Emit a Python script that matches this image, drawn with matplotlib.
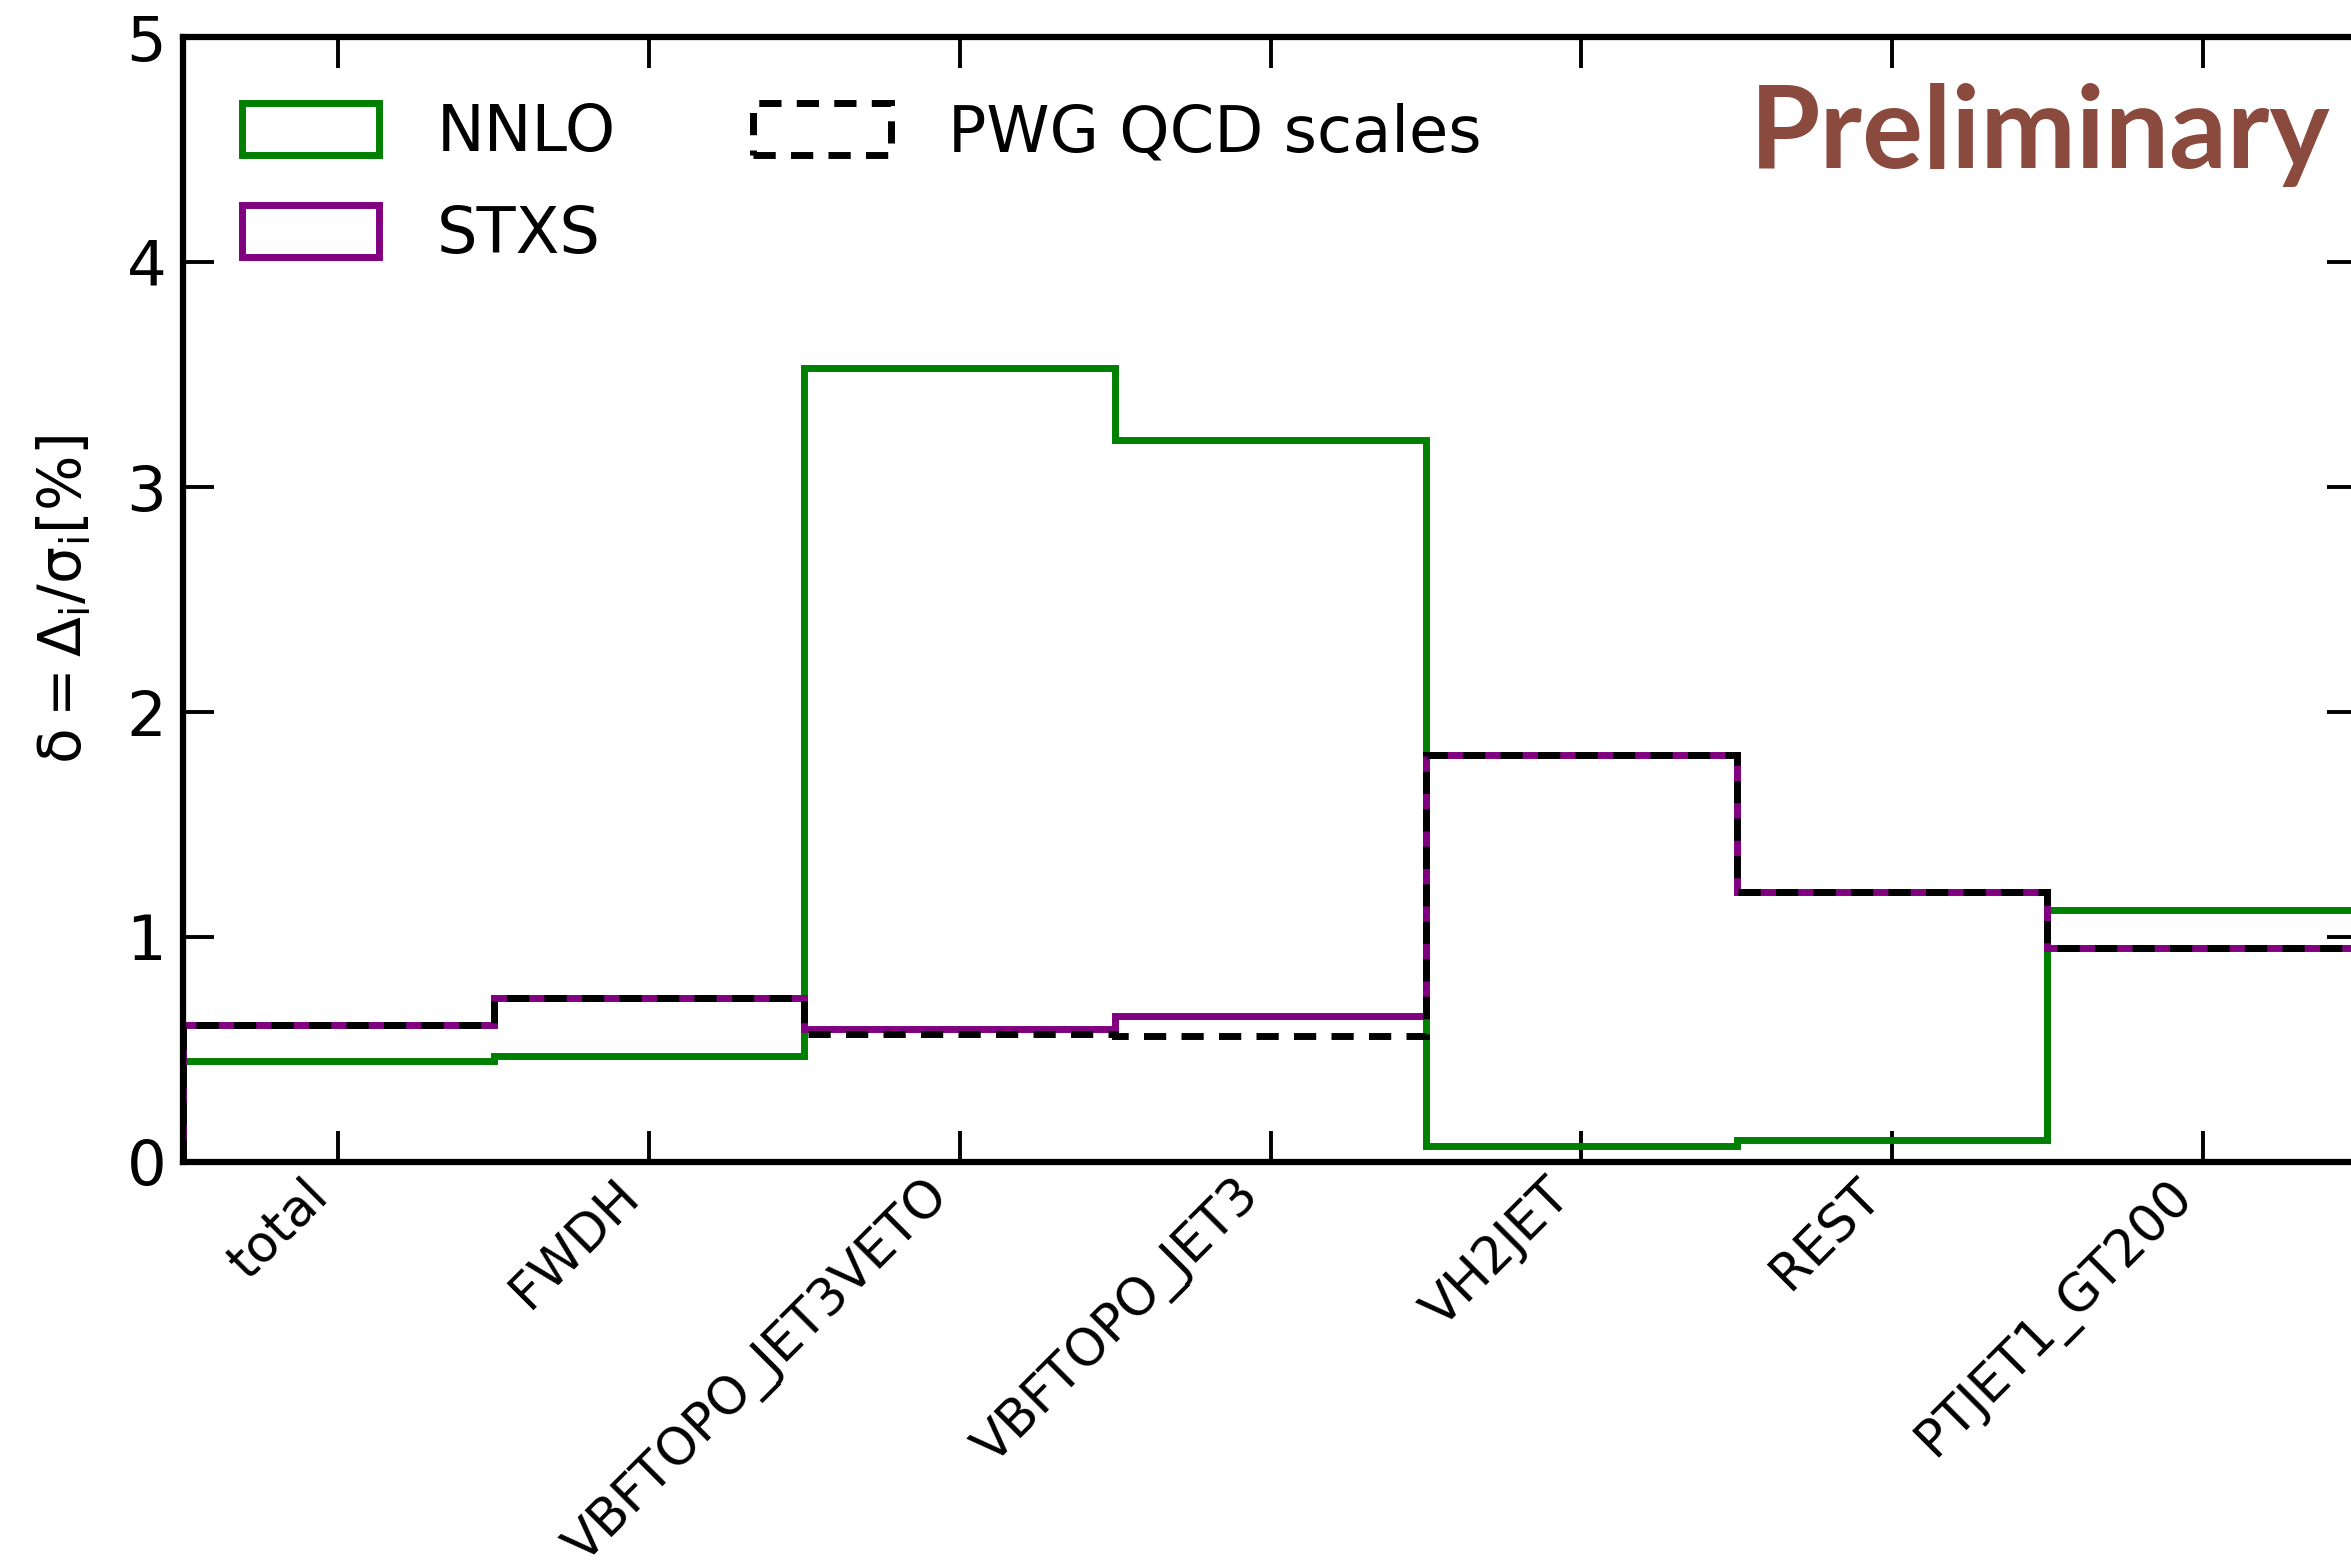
import matplotlib
matplotlib.use("Agg")
import matplotlib.pyplot as plt
import matplotlib.transforms as mtransforms
import numpy as np

# STXS bins and relative uncertainties in percent
categories = ["total", "FWDH", "VBFTOPO_JET3VETO", "VBFTOPO_JET3",
              "VH2JET", "REST", "PTJET1_GT200"]
nnlo = [0.45, 0.47, 3.53, 3.21, 0.07, 0.10, 1.12]
stxs = [0.61, 0.73, 0.59, 0.65, 1.81, 1.20, 0.95]
pwg_scales = [0.61, 0.73, 0.57, 0.56, 1.81, 1.20, 0.95]

BROWN = "#8b4a3e"
LW = 5

plt.rcParams["mathtext.default"] = "regular"

edges = np.arange(len(categories) + 1)
centers = edges[:-1] + 0.5

W, H = 2351, 1565
fig = plt.figure(figsize=(W / 100, H / 100), dpi=100)
ax = fig.add_axes([183 / W, 1 - 1162 / H, (2358 - 183) / W, (1162 - 37) / H])

ax.hist(centers, bins=edges, weights=nnlo, histtype="step",
        color="green", lw=LW, label="NNLO")
ax.hist(centers, bins=edges, weights=stxs, histtype="step",
        color="purple", lw=LW, label="STXS")
ax.hist(centers, bins=edges, weights=pwg_scales, histtype="step",
        color="black", lw=LW, ls=(0, (3.2, 2.2)), label="PWG QCD scales")

ax.set_xlim(0, len(categories))
ax.set_ylim(0, 5)
ax.set_xticks(centers)
ax.set_xticklabels(categories, rotation=45, ha="right", va="top",
                   rotation_mode="anchor")
ax.set_yticks(range(6))

ax.tick_params(axis="both", direction="in", length=22, width=2.8,
               top=True, right=True, pad=12)
ax.tick_params(axis="y", labelsize=45)
ax.tick_params(axis="x", labelsize=37, pad=6)
for s in ax.spines.values():
    s.set_linewidth(4.5)

# labels sit a bit left of their ticks in the original
shift = mtransforms.ScaledTranslation(-0.36, 0, fig.dpi_scale_trans)
for lbl in ax.get_xticklabels():
    lbl.set_transform(lbl.get_transform() + shift)

ax.set_ylabel(r"$\delta = \Delta_i/\sigma_i [\%]$", fontsize=42, labelpad=24)

ax.legend(loc="upper left", bbox_to_anchor=(0.027, 0.942), ncol=2,
          frameon=False, fontsize=46, handlelength=2.15, handleheight=0.87,
          handletextpad=0.9, labelspacing=0.62, columnspacing=2.15,
          borderpad=0, borderaxespad=0)

fig.text(1750 / W, 1 - 168 / H, "Preliminary", color=BROWN, fontsize=82,
         fontweight="bold", family="Lato", va="baseline", ha="left")

fig.savefig("out.png", dpi=100)
